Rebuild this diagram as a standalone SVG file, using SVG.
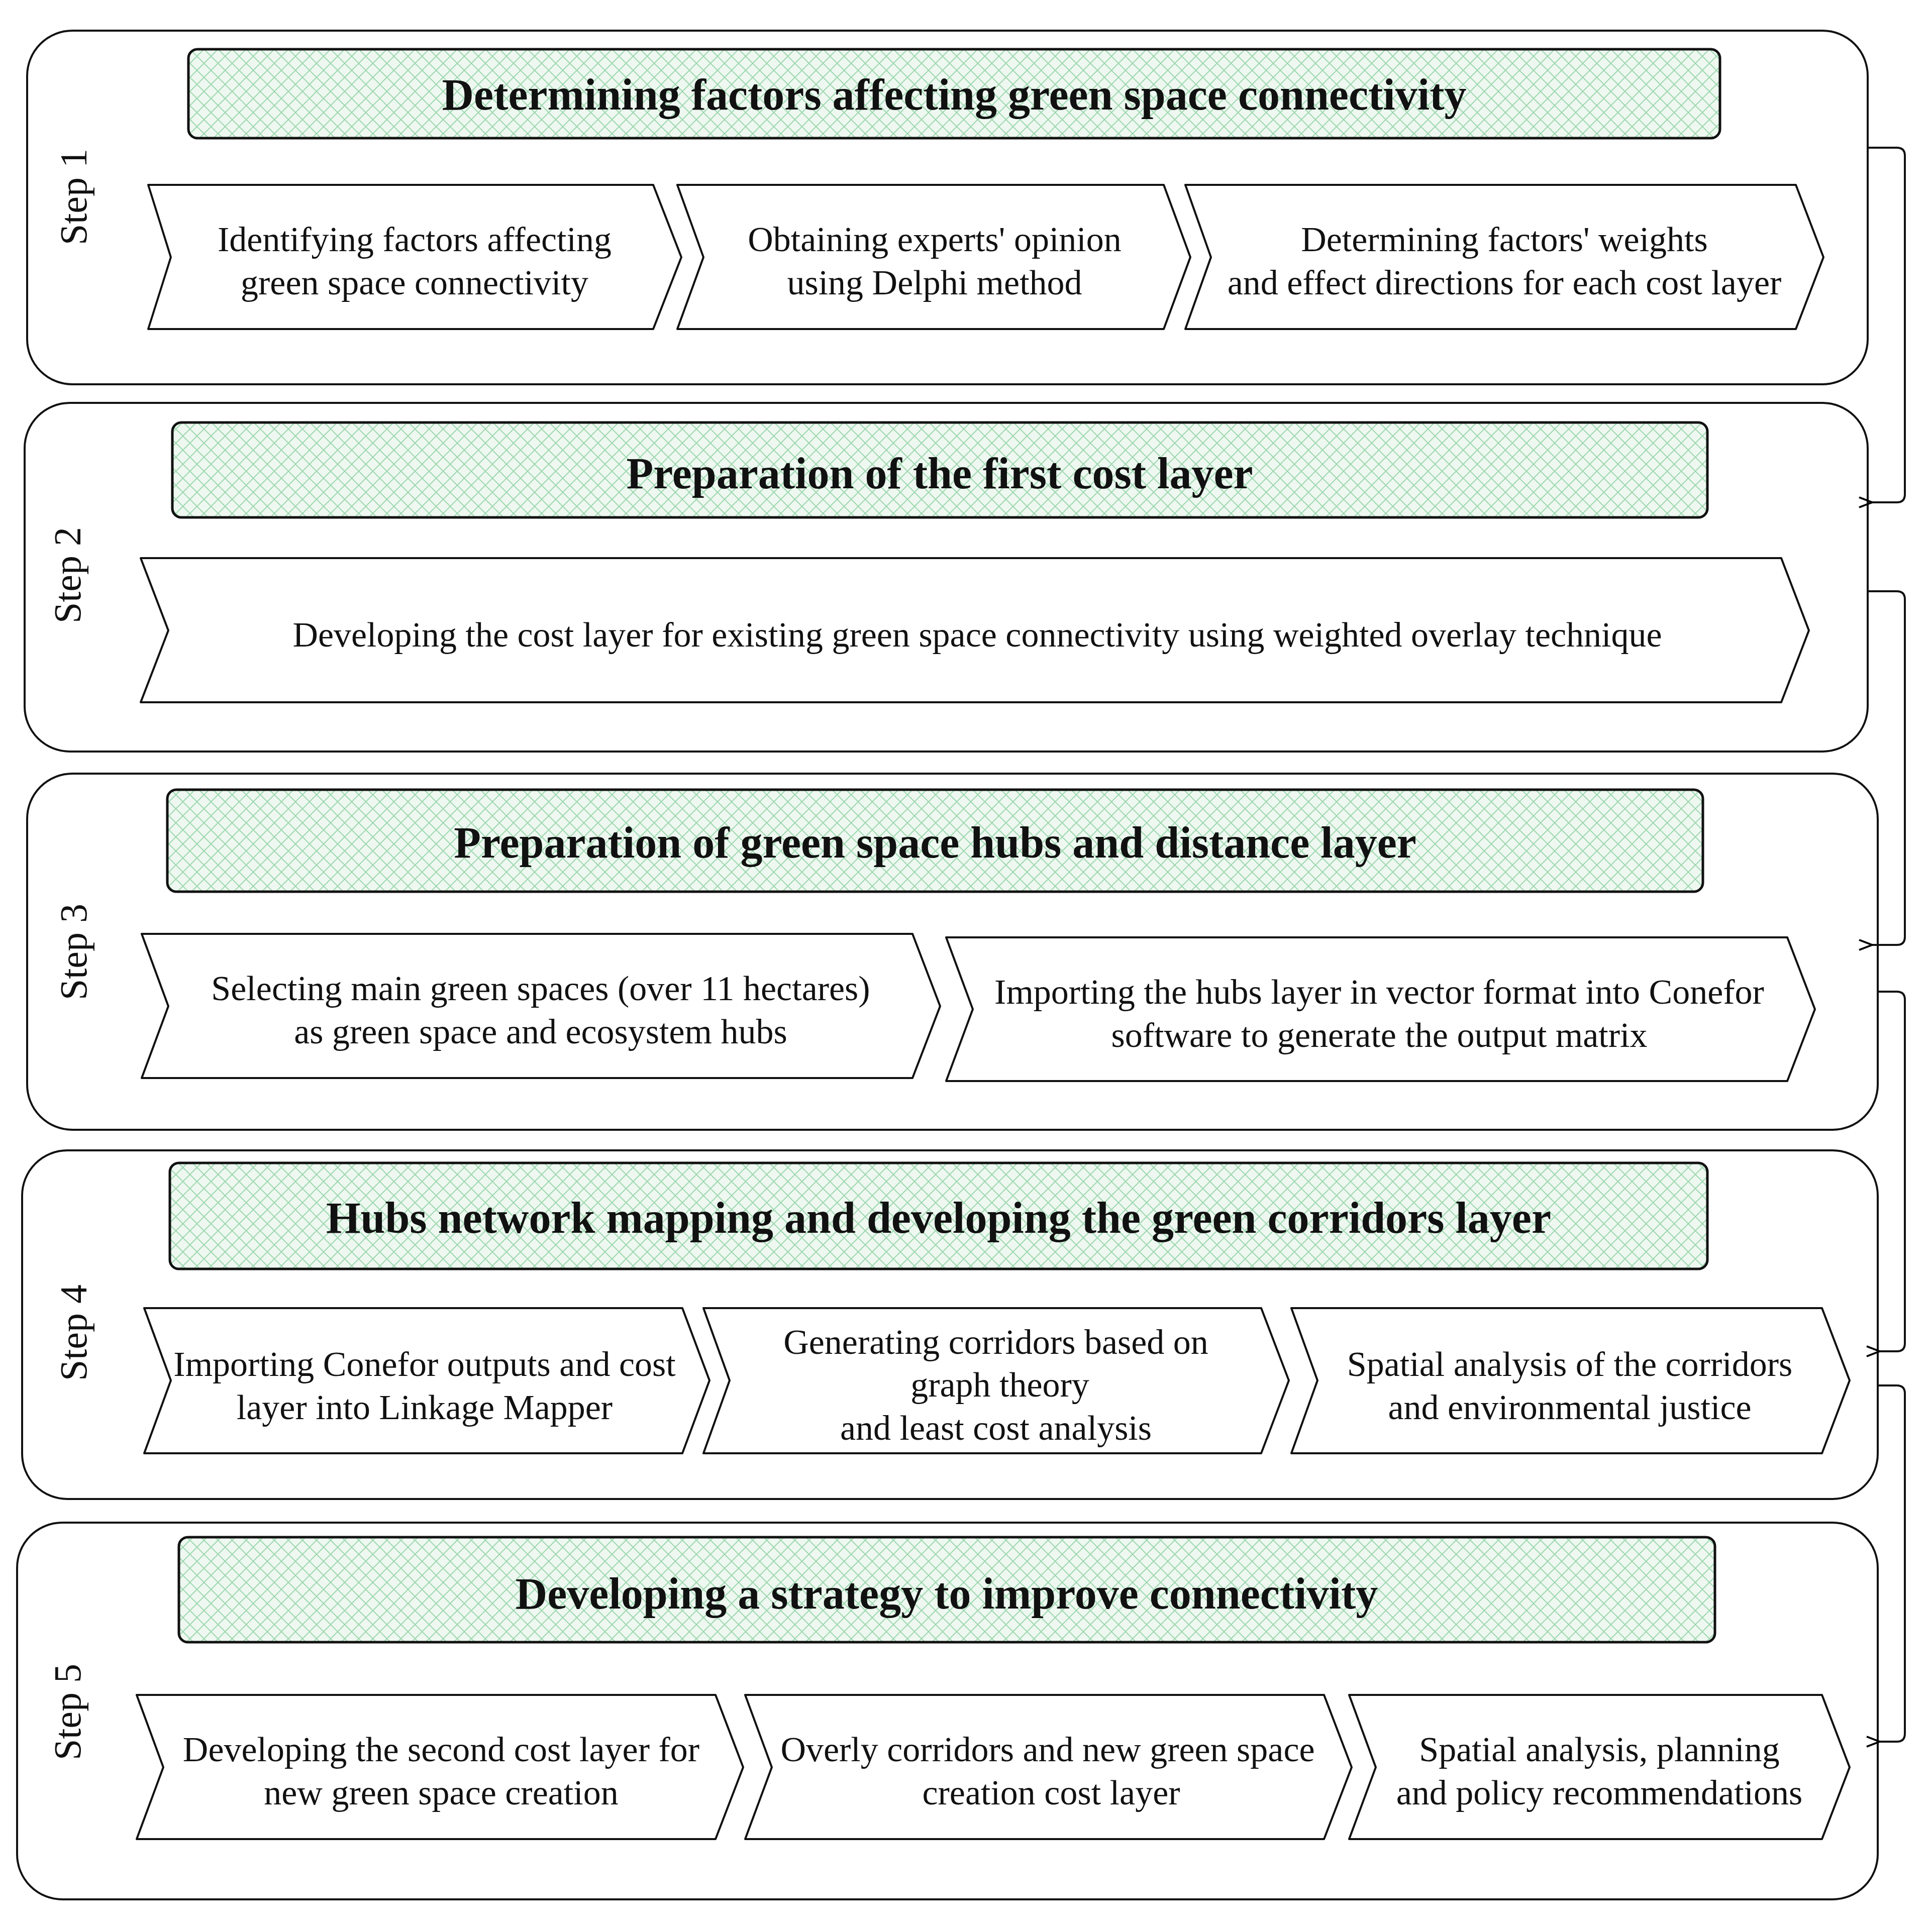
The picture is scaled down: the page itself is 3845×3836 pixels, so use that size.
<svg xmlns="http://www.w3.org/2000/svg" width="3845" height="3836" viewBox="0 0 3845 3836">
<defs>
<pattern id="h" width="28" height="28" patternUnits="userSpaceOnUse"><path d="M0 0L28 28M28 0L0 28" stroke="#9fd8b0" stroke-width="2" fill="none"/></pattern>
<marker id="a" markerWidth="30" markerHeight="24" refX="2" refY="12" orient="auto" markerUnits="userSpaceOnUse"><path d="M28 2L2 12L28 22" fill="none" stroke="#000" stroke-width="4"/></marker>
</defs>
<style>
.step{fill:#fff;stroke:#111;stroke-width:4}
.hd{fill:url(#h);stroke:#111;stroke-width:5}
.hb{fill:#eef8f1}
.ch{fill:#fff;stroke:#111;stroke-width:4;stroke-linejoin:round}
.t{font-family:"Liberation Serif",serif;font-size:70px;text-anchor:middle;fill:#111}
.tt{font-family:"Liberation Serif",serif;font-size:88px;font-weight:bold;text-anchor:middle;fill:#111}
.sl{font-family:"Liberation Serif",serif;font-size:76px;text-anchor:middle;fill:#111}
.c{fill:none;stroke:#111;stroke-width:4;marker-end:url(#a)}
</style>
<rect width="3845" height="3836" fill="#fff"/>
<g id="step1">
<rect class="step" x="54" y="61" width="3663" height="704" rx="90"/>
<rect class="hb" x="375" y="98" width="3048" height="177" rx="18"/><rect class="hd" x="375" y="98" width="3048" height="177" rx="18"/>
<text class="tt" x="1899" y="218">Determining factors affecting green space connectivity</text>
<text class="sl" transform="translate(172,392) rotate(-90)">Step 1</text>
<path class="ch" d="M295 368H1300L1356 512L1300 655H295L340 512Z"/>
<text class="t" x="825" y="500">Identifying factors affecting</text><text class="t" x="825" y="586">green space connectivity</text>
<path class="ch" d="M1348 368H2316L2369 512L2316 655H1348L1400 512Z"/>
<text class="t" x="1860" y="500">Obtaining experts' opinion</text><text class="t" x="1860" y="586">using Delphi method</text>
<path class="ch" d="M2359 368H3574L3629 512L3574 655H2359L2410 512Z"/>
<text class="t" x="2994" y="500">Determining factors' weights</text><text class="t" x="2994" y="586">and effect directions for each cost layer</text>
</g>
<g id="step2">
<rect class="step" x="49" y="802" width="3668" height="694" rx="90"/>
<rect class="hb" x="343" y="841" width="3055" height="189" rx="18"/><rect class="hd" x="343" y="841" width="3055" height="189" rx="18"/>
<text class="tt" x="1870" y="972">Preparation of the first cost layer</text>
<text class="sl" transform="translate(160,1145) rotate(-90)">Step 2</text>
<path class="ch" d="M280 1111H3545L3600 1255L3545 1398H280L335 1255Z"/>
<text class="t" x="1945" y="1287">Developing the cost layer for existing green space connectivity using weighted overlay technique</text>
</g>
<g id="step3">
<rect class="step" x="54" y="1540" width="3683" height="709" rx="90"/>
<rect class="hb" x="333" y="1572" width="3056" height="203" rx="18"/><rect class="hd" x="333" y="1572" width="3056" height="203" rx="18"/>
<text class="tt" x="1861" y="1707">Preparation of green space hubs and distance layer</text>
<text class="sl" transform="translate(172,1895) rotate(-90)">Step 3</text>
<path class="ch" d="M282 1859H1816L1871 2003L1816 2146H282L335 2003Z"/>
<text class="t" x="1076" y="1991">Selecting main green spaces (over 11 hectares)</text><text class="t" x="1076" y="2077">as green space and ecosystem hubs</text>
<path class="ch" d="M1883 1866H3557L3612 2009L3557 2152H1883L1936 2009Z"/>
<text class="t" x="2745" y="1998">Importing the hubs layer in vector format into Conefor</text><text class="t" x="2745" y="2084">software to generate the output matrix</text>
</g>
<g id="step4">
<rect class="step" x="44" y="2290" width="3693" height="694" rx="90"/>
<rect class="hb" x="338" y="2315" width="3060" height="211" rx="18"/><rect class="hd" x="338" y="2315" width="3060" height="211" rx="18"/>
<text class="tt" x="1868" y="2454">Hubs network mapping and developing the green corridors layer</text>
<text class="sl" transform="translate(172,2653) rotate(-90)">Step 4</text>
<path class="ch" d="M287 2604H1358L1412 2748L1358 2893H287L340 2748Z"/>
<text class="t" x="845" y="2739">Importing Conefor outputs and cost</text><text class="t" x="845" y="2825">layer into Linkage Mapper</text>
<path class="ch" d="M1400 2604H2510L2565 2748L2510 2893H1400L1452 2748Z"/>
<text class="t" x="1982" y="2695">Generating corridors based on</text><text class="t" x="1990" y="2780">graph theory</text><text class="t" x="1982" y="2866">and least cost analysis</text>
<path class="ch" d="M2570 2604H3626L3681 2748L3626 2893H2570L2622 2748Z"/>
<text class="t" x="3124" y="2739">Spatial analysis of the corridors</text><text class="t" x="3124" y="2825">and environmental justice</text>
</g>
<g id="step5">
<rect class="step" x="34" y="3031" width="3703" height="750" rx="90"/>
<rect class="hb" x="356" y="3060" width="3057" height="209" rx="18"/><rect class="hd" x="356" y="3060" width="3057" height="209" rx="18"/>
<text class="tt" x="1884" y="3202">Developing a strategy to improve connectivity</text>
<text class="sl" transform="translate(160,3408) rotate(-90)">Step 5</text>
<path class="ch" d="M272 3374H1424L1479 3518L1424 3661H272L325 3518Z"/>
<text class="t" x="878" y="3506">Developing the second cost layer for</text><text class="t" x="878" y="3592">new green space creation</text>
<path class="ch" d="M1483 3374H2635L2690 3518L2635 3661H1483L1536 3518Z"/>
<text class="t" x="2085" y="3506">Overly corridors and new green space</text><text class="t" x="2092" y="3592">creation cost layer</text>
<path class="ch" d="M2685 3374H3626L3681 3518L3626 3661H2685L2738 3518Z"/>
<text class="t" x="3183" y="3506">Spatial analysis, planning</text><text class="t" x="3183" y="3592">and policy recommendations</text>
</g>
<g id="connectors">
<path class="c" d="M3717 294H3775Q3791 294 3791 310V984Q3791 1000 3775 1000H3726"/>
<path class="c" d="M3717 1177H3775Q3791 1177 3791 1193V1865Q3791 1881 3775 1881H3726"/>
<path class="c" d="M3737 1974H3775Q3791 1974 3791 1990V2674Q3791 2690 3775 2690H3741"/>
<path class="c" d="M3737 2758H3775Q3791 2758 3791 2774V3451Q3791 3467 3775 3467H3741"/>
</g>
</svg>
